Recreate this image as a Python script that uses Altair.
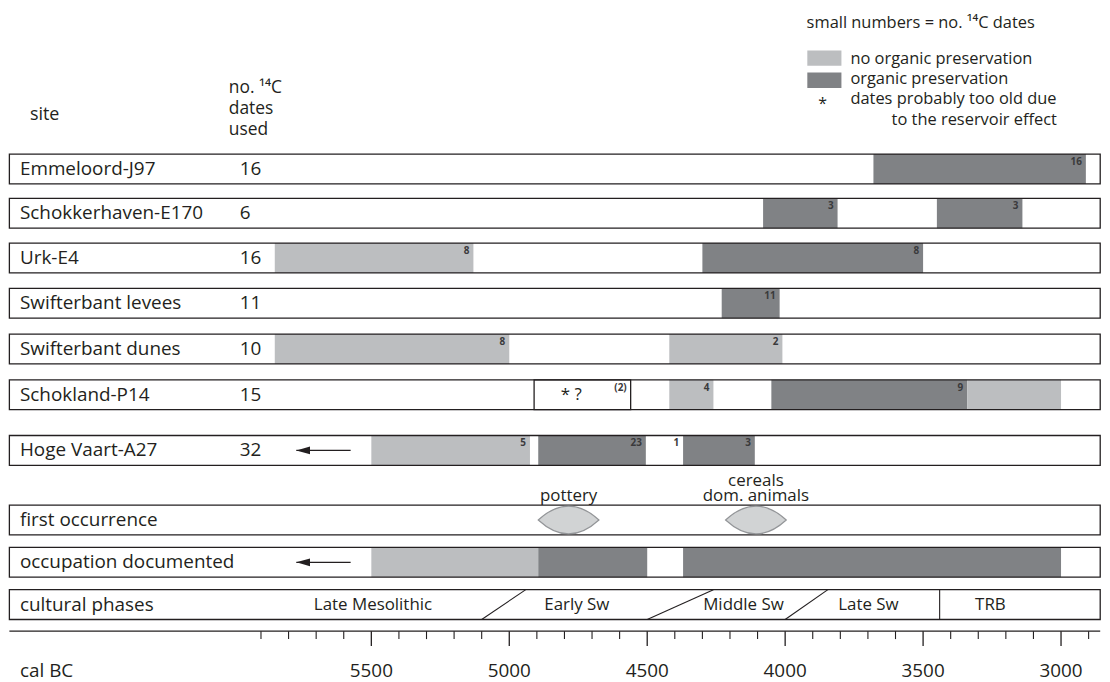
import altair as alt
import pandas as pd

FONT = "Open Sans, DejaVu Sans"
INK = "#231f20"
LIGHT = "#bcbec0"
DARK = "#808285"
LENS_FILL = "#d1d3d4"
LENS_STROKE = "#939598"

W, H = 1100, 674
YEAR_LEFT, YEAR_RIGHT = 6817, 2851.5
BOX_LEFT, BOX_RIGHT = 6812, 2858

# ---- rows (site / feature) ----
ROW_NAMES = ["Emmeloord-J97", "Schokkerhaven-E170", "Urk-E4", "Swifterbant levees",
             "Swifterbant dunes", "Schokland-P14", "Hoge Vaart-A27", "first occurrence",
             "occupation documented", "cultural phases"]
ROW_COUNTS = ["16", "6", "16", "11", "10", "15", "32", "", "", ""]
ROW_TOP = [145, 189.5, 234.5, 280, 326, 372, 428, 498, 540.5, 583]
ROW_H = 30

# ---- dated occupation bars (cal BC, older -> younger) ----
BAR_ROW = [0, 1, 1, 2, 2, 3, 4, 4, 5, 5, 5, 6, 6, 6, 8, 8, 8]
BAR_FROM = [3680, 4080, 3450, 5850, 4300, 4230, 5850, 4420, 4420, 4050, 3340, 5500, 4895, 4370, 5500, 4895, 4370]
BAR_TO = [2910, 3810, 3140, 5130, 3500, 4020, 5000, 4010, 4260, 3340, 3000, 4925, 4505, 4110, 4895, 4500, 3000]
BAR_KIND = ["organic preservation", "organic preservation", "organic preservation",
            "no organic preservation", "organic preservation", "organic preservation",
            "no organic preservation", "no organic preservation",
            "no organic preservation", "organic preservation", "no organic preservation",
            "no organic preservation", "organic preservation", "organic preservation",
            "no organic preservation", "organic preservation", "organic preservation"]

# small numbers = no. of 14C dates (row, year at right end, label)
N_ROW = [0, 1, 1, 2, 2, 3, 4, 4, 5, 5, 5, 6, 6, 6, 6]
N_YEAR = [2910, 3810, 3140, 5130, 3500, 4020, 5000, 4010, 4560, 4260, 3340, 4925, 4505, 4370, 4110]
N_TEXT = ["16", "3", "3", "8", "8", "11", "8", "2", "(2)", "4", "9", "5", "23", "1", "3"]

# Schokland dates probably too old (reservoir effect)
OLD_ROW = 5
OLD_FROM, OLD_TO = 4910, 4560
OLD_MARK_YEAR = 4775

# arrows (occupation continues earlier)
ARROW_ROWS = [6, 8]
ARROW_TAIL, ARROW_TIP = 5575, 5772

# first occurrence
FIRST_YEAR = [4785, 4106]
FIRST_LABEL = ["pottery", "cereals", "dom. animals"]
FIRST_LABEL_YEAR = [4785, 4106, 4106]
FIRST_LABEL_LINE = [0, 1, 0]   # line number counted upward from the row

# cultural phases
PHASE_NAMES = ["Late Mesolithic", "Early Sw", "Middle Sw", "Late Sw", "TRB"]
PHASE_LABEL_YEAR = [5494, 4755, 4151, 3698, 3256]
PHASE_BORDER_BOTTOM = [5100, 4500, 4000, 3440]
PHASE_BORDER_TOP = [4940, 4260, 3845, 3440]

# axis
MAJOR_TICKS = [5500, 5000, 4500, 4000, 3500, 3000]
MINOR_TICKS = [y for y in range(5900, 2850, -100) if y not in MAJOR_TICKS]
AXIS_Y = 624.7

xs = alt.Scale(domain=[YEAR_RIGHT, YEAR_LEFT], reverse=True, nice=False, zero=False)
ys = alt.Scale(domain=[0, H], reverse=True, nice=False, zero=False)
px_scale = alt.Scale(domain=[0, W], nice=False, zero=False)


def X(f):
    return alt.X(f, type="quantitative", scale=xs, axis=None)


def Y(f):
    return alt.Y(f, type="quantitative", scale=ys, axis=None)


rows = pd.DataFrame({"name": ROW_NAMES, "count": ROW_COUNTS, "top": ROW_TOP})
rows["bottom"] = rows["top"] + ROW_H
rows["mid"] = rows["top"] + ROW_H / 2
rows["x0"] = BOX_LEFT
rows["x1"] = BOX_RIGHT

bars = pd.DataFrame({"row": BAR_ROW, "start": BAR_FROM, "end": BAR_TO, "kind": BAR_KIND})
bars["top"] = [ROW_TOP[r] for r in bars["row"]]
bars["bottom"] = bars["top"] + ROW_H

nums = pd.DataFrame({"row": N_ROW, "year": N_YEAR, "text": N_TEXT})
nums["top"] = [ROW_TOP[r] for r in nums["row"]]

box_fill = alt.Chart(rows).mark_rect(color="white").encode(
    x=X("x0"), x2="x1", y=Y("top"), y2="bottom")

bar_layer = alt.Chart(bars).mark_rect().encode(
    x=X("start"), x2="end", y=Y("top"), y2="bottom",
    color=alt.Color("kind:N", legend=None,
                    scale=alt.Scale(domain=["no organic preservation", "organic preservation"],
                                    range=[LIGHT, DARK])))

old = pd.DataFrame({"start": [OLD_FROM], "end": [OLD_TO], "top": [ROW_TOP[OLD_ROW]],
                    "bottom": [ROW_TOP[OLD_ROW] + ROW_H], "mid": [ROW_TOP[OLD_ROW] + ROW_H / 2],
                    "mark_year": [OLD_MARK_YEAR], "text": ["*  ?"]})
old_box = alt.Chart(old).mark_rect(fill="white", stroke=INK, strokeWidth=1.3).encode(
    x=X("start"), x2="end", y=Y("top"), y2="bottom")
old_text = alt.Chart(old).mark_text(font=FONT, fontSize=17, color=INK, baseline="middle").encode(
    x=X("mark_year"), y=Y("mid"), text="text:N")

box_line = alt.Chart(rows).mark_rect(fillOpacity=0, stroke=INK, strokeWidth=1.3).encode(
    x=X("x0"), x2="x1", y=Y("top"), y2="bottom")

num_layer = alt.Chart(nums).mark_text(font=FONT, fontSize=10, fontWeight="bold", color="#3a3a3c",
                                      align="right", baseline="top", dx=-4, dy=3).encode(
    x=X("year"), y=Y("top"), text="text:N")

row_labels = alt.Chart(rows).mark_text(font=FONT, fontSize=19, color=INK, align="left",
                                       baseline="middle").encode(
    x=alt.value(12), y=Y("mid"), text="name:N")
row_counts = alt.Chart(rows).mark_text(font=FONT, fontSize=19, color=INK, align="left",
                                       baseline="middle").encode(
    x=alt.value(233), y=Y("mid"), text="count:N")

# arrows
arr = pd.DataFrame({"tail": [ARROW_TAIL] * len(ARROW_ROWS), "tip": [ARROW_TIP] * len(ARROW_ROWS),
                    "mid": [ROW_TOP[r] + ROW_H / 2 for r in ARROW_ROWS]})
arrow_line = alt.Chart(arr).mark_rule(color=INK, strokeWidth=1.3).encode(
    x=X("tail"), x2="tip", y=Y("mid"))
arrow_head = alt.Chart(arr).mark_point(shape="M0,0L4.6,-1.3L4.6,1.3Z", filled=True, color=INK,
                                       size=36, opacity=1).encode(x=X("tip"), y=Y("mid"))

# first occurrence lenses
first = pd.DataFrame({"year": FIRST_YEAR, "mid": [ROW_TOP[7] + ROW_H / 2] * len(FIRST_YEAR)})
lens = alt.Chart(first).mark_point(shape="M-1,0Q0,-0.92,1,0Q0,0.92,-1,0Z", filled=True,
                                   fill=LENS_FILL, stroke=LENS_STROKE, strokeWidth=1.2,
                                   size=3721, opacity=1).encode(x=X("year"), y=Y("mid"))
flab = pd.DataFrame({"year": FIRST_LABEL_YEAR, "label": FIRST_LABEL, "line": FIRST_LABEL_LINE})
flab["ly"] = ROW_TOP[7] - 4.5 - flab["line"] * 14.5
first_text = alt.Chart(flab).mark_text(
    font=FONT, fontSize=17, color=INK, baseline="alphabetic").encode(
    x=X("year"), y=Y("ly"), text="label:N")

# cultural phases
ph = pd.DataFrame({"name": PHASE_NAMES, "year": PHASE_LABEL_YEAR,
                   "mid": [ROW_TOP[9] + ROW_H / 2] * len(PHASE_NAMES)})
phase_text = alt.Chart(ph).mark_text(font=FONT, fontSize=17, color=INK, baseline="middle").encode(
    x=X("year"), y=Y("mid"), text="name:N")
pb = pd.DataFrame({"b": PHASE_BORDER_BOTTOM, "t": PHASE_BORDER_TOP,
                   "yb": [ROW_TOP[9] + ROW_H] * len(PHASE_BORDER_BOTTOM),
                   "yt": [ROW_TOP[9]] * len(PHASE_BORDER_BOTTOM)})
phase_lines = alt.Chart(pb).mark_rule(color=INK, strokeWidth=1.1).encode(
    x=X("b"), x2="t", y=Y("yb"), y2="yt")

# axis
ax = pd.DataFrame({"x0": [BOX_LEFT], "x1": [BOX_RIGHT], "y": [AXIS_Y]})
axis_line = alt.Chart(ax).mark_rule(color=INK, strokeWidth=1.3).encode(
    x=X("x0"), x2="x1", y=Y("y"))
minor = pd.DataFrame({"year": MINOR_TICKS, "y0": AXIS_Y, "y1": AXIS_Y + 8})
major = pd.DataFrame({"year": MAJOR_TICKS, "y0": AXIS_Y, "y1": AXIS_Y + 15,
                      "ly": AXIS_Y + 46, "label": [str(v) for v in MAJOR_TICKS]})
minor_ticks = alt.Chart(minor).mark_rule(color=INK, strokeWidth=1.1).encode(
    x=X("year"), y=Y("y0"), y2="y1")
major_ticks = alt.Chart(major).mark_rule(color=INK, strokeWidth=1.3).encode(
    x=X("year"), y=Y("y0"), y2="y1")
major_labels = alt.Chart(major).mark_text(font=FONT, fontSize=19, color=INK,
                                          baseline="alphabetic").encode(
    x=X("year"), y=Y("ly"), text="label:N")

# free annotations (headers, legend)
ANN_TEXT = ["site", "no. \u00b9\u2074C", "dates", "used", "cal BC"]
ANN_X = [22, 222, 222, 222, 12]
ANN_Y = [110.5, 84, 104.5, 125.5, AXIS_Y + 46]
ANN_SIZE = [18, 17.5, 17.5, 17.5, 19]
ann = pd.DataFrame({"text": ANN_TEXT, "px": ANN_X, "py": ANN_Y, "fs": ANN_SIZE})
ann_layer = alt.Chart(ann).mark_text(font=FONT, color=INK, align="left",
                                     baseline="alphabetic").encode(
    x=alt.X("px:Q", scale=px_scale, axis=None),
    y=Y("py"), text="text:N",
    size=alt.Size("fs:Q", scale=None, legend=None))

LEG_TEXT = ["small numbers = no. \u00b9\u2074C dates", "no organic preservation",
            "organic preservation", "dates probably too old due"]
LEG_X = [803, 847, 847, 847]
LEG_Y = [18, 54, 74.5, 95]
leg = pd.DataFrame({"text": LEG_TEXT, "px": LEG_X, "py": LEG_Y})
leg_layer = alt.Chart(leg).mark_text(font=FONT, fontSize=16.5, color=INK, align="left",
                                     baseline="alphabetic").encode(
    x=alt.X("px:Q", scale=px_scale, axis=None), y=Y("py"), text="text:N")

legend_rects = pd.DataFrame({"kind": ["no organic preservation", "organic preservation"],
                             "x0": [803.7, 803.7], "x1": [838, 838],
                             "y0": [41, 63], "y1": [56.3, 78.7]})

base_layers = alt.layer(box_fill, bar_layer, old_box, old_text, box_line, num_layer, row_labels,
                        row_counts, arrow_line, arrow_head, lens, first_text, phase_text,
                        phase_lines, axis_line, minor_ticks, major_ticks, major_labels)

leg_rect = alt.Chart(legend_rects).mark_rect().encode(
    x=alt.X("x0:Q", scale=px_scale, axis=None),
    x2="x1", y=Y("y0"), y2="y1",
    color=alt.Color("kind:N", legend=None,
                    scale=alt.Scale(domain=["no organic preservation", "organic preservation"],
                                    range=[LIGHT, DARK])))
star = alt.Chart(pd.DataFrame({"t": ["*"]})).mark_text(
    font=FONT, fontSize=16, color=INK).encode(x=alt.value(819), y=alt.value(95), text="t:N")
reservoir = alt.Chart(pd.DataFrame({"t": ["to the reservoir effect"]})).mark_text(
    font=FONT, fontSize=16.5, color=INK, align="right", baseline="alphabetic").encode(
    x=alt.value(1054.7), y=alt.value(116), text="t:N")

overlay = alt.layer(ann_layer, leg_layer, leg_rect, star, reservoir)

chart = alt.layer(base_layers, overlay).resolve_scale(x="independent").properties(
    width=W, height=H, padding=0, autosize="none"
).configure_view(stroke=None)

chart.save("out.html", embed_options={"renderer": "svg", "actions": False})
